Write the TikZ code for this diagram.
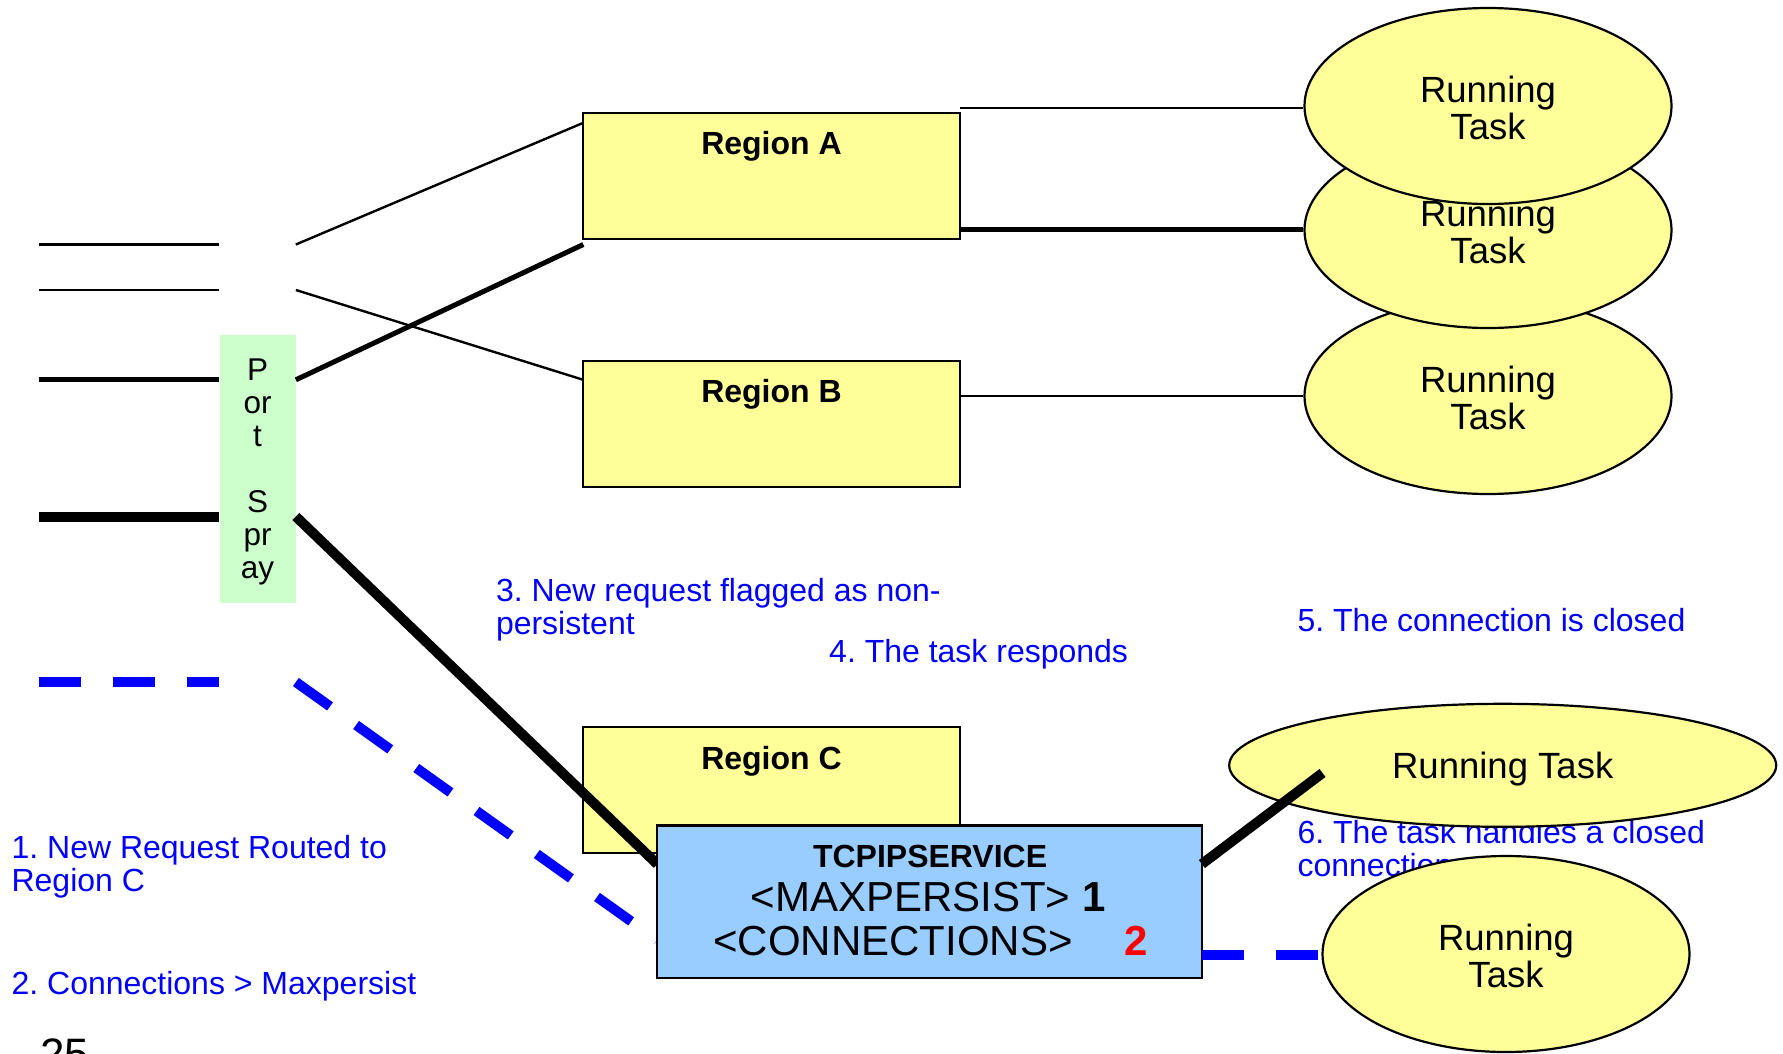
\documentclass[tikz,border=0pt]{standalone}
\usepackage{fontspec}
\setmainfont{Liberation Sans}
\usetikzlibrary{shapes.geometric}

\definecolor{taskyellow}{HTML}{FFFF99}
\definecolor{svcblue}{HTML}{99CCFF}
\definecolor{spraygreen}{HTML}{CCFFCC}
\definecolor{noteblue}{HTML}{0000FF}
\definecolor{alertred}{HTML}{FF0000}

% extra height on the first line of a task label, to set it a little lower
\newcommand\tasklift{\rule{0pt}{30.5pt}}

\tikzset{
  regionbox/.style={draw=black, line width=2pt, fill=taskyellow,
    minimum width=376.4pt, minimum height=126.2pt, inner sep=0pt},
  tasknode/.style={ellipse, draw=black, line width=2.2pt, fill=taskyellow,
    minimum width=367pt, minimum height=196pt, inner sep=0pt, align=center,
    font=\fontsize{36.5}{36.5}\selectfont},
  regionlabel/.style={anchor=base, inner sep=0pt,
    font=\bfseries\fontsize{32}{32}\selectfont},
  note/.style={anchor=base west, inner sep=0pt, text=noteblue,
    font=\fontsize{32}{33}\selectfont},
  svctext/.style={anchor=base west, inner sep=0pt,
    font=\fontsize{42}{42}\selectfont},
  thinlink/.style={line width=2.4pt},
  midlink/.style={line width=5pt},
  thicklink/.style={line width=10pt},
  bluedash/.style={draw=noteblue, line width=10pt, dash pattern=on 42pt off 32pt},
}

\begin{document}
\frenchspacing
\begin{tikzpicture}[x=1pt, y=-1pt]
\useasboundingbox (0,0) rectangle (1783,1053);

% ---------- port spray and incoming connections ----------
\node[fill=spraygreen, minimum width=76.1pt, minimum height=267.3pt, inner sep=0pt,
      align=center, font=\fontsize{31.5}{33}\selectfont]
  (spray) at (257.6,469) {\rule{0pt}{27pt}P\\or\\t\\[33pt]S\\pr\\ay};

\coordinate (l1) at (38.7,244.5);
\coordinate (l2) at (38.7,290);
\coordinate (l3) at (38.7,379.8);
\coordinate (l4) at (38.7,516.5);
\coordinate (l5) at (38.7,682);

\draw[thinlink]  (l1) -- (l1 -| spray.west);
\draw[thinlink]  (l2) -- (l2 -| spray.west);
\draw[midlink]   (l3) -- (l3 -| spray.west);
\draw[thicklink] (l4) -- (l4 -| spray.west);
\draw[bluedash]  (l5) -- (l5 -| spray.west);

% ---------- regions ----------
\node[regionbox] (regA) at (771.5,175.7) {};
\node[regionbox] (regB) at (771.5,424.2) {};
\node[regionbox] (regC) at (771.5,790.3) {};
\node[regionlabel] (labA) at (771.5,154.4) {Region A};
\node[regionlabel] (labB) at (771.5,402.3) {Region B};
\node[regionlabel] (labC) at (771.5,769.5) {Region C};

% entry points on the regions
\coordinate (ra1) at (583.3,122.8);
\coordinate (ra2) at (583.3,244.5);
\coordinate (rb1) at (583.3,379.8);

\draw[thinlink] (spray.east |- l1) -- (ra1);
\draw[thinlink] (spray.east |- l2) -- (rb1);
\draw[midlink]  (spray.east |- l3) -- (ra2);

% ---------- notes ----------
\node[note] (n1a) at (11.4,858.6) {1. New Request Routed to};
\node[note] (n1b) at (11.4,891.6) {Region C};
\node[note] (n2)  at (11.4,994) {2. Connections > Maxpersist};
\node[note] (n3a) at (495.8,601.7) {3. New request flagged as non-};
\node[note] (n3b) at (495.8,634.6) {persistent};
\node[note] (n4)  at (829,662) {4. The task responds};
\node[note] (n5)  at (1297.4,631.2) {5. The connection is closed};
\node[note] (n6a) at (1297.4,843.9) {6. The task handles a closed};
\node[note] (n6b) at (1297.4,876.8) {connection};

\node[anchor=base west, inner sep=0pt, font=\fontsize{44}{44}\selectfont]
  (pageno) at (40,1069) {25};

% ---------- running tasks of regions A and B ----------
\coordinate (ao1) at (959.7,108);
\coordinate (ao2) at (959.7,229.7);
\coordinate (bo1) at (959.7,395.7);

\node[tasknode] (taskB)  at (1488,396) {\tasklift Running\\Task};
\node[tasknode] (taskA2) at (1488,230) {\tasklift Running\\Task};
\node[tasknode] (taskA1) at (1488,106) {\tasklift Running\\Task};

\draw[thinlink] (ao1) -- (ao1 -| taskA1.west);
\draw[midlink]  (ao2) -- (ao2 -| taskA2.west);
\draw[thinlink] (bo1) -- (bo1 -| taskB.west);

% ---------- connections into the TCPIPSERVICE ----------
\coordinate (sv1) at (657.3,864.2);
\coordinate (sv2) at (657.3,940);
\draw[thicklink] (spray.east |- l4) -- (sv1);
\draw[bluedash]  (spray.east |- l5) -- (sv2);

\node[draw=black, line width=2.2pt, fill=svcblue, minimum width=544.6pt,
      minimum height=152.4pt, inner sep=0pt] (svc) at (929.6,901.7) {};
\node[anchor=base, inner sep=0pt, font=\bfseries\fontsize{32}{32}\selectfont]
  (svcname) at (930.1,867.6) {TCPIPSERVICE};
\node[svctext] (maxp) at (750.5,911) {<MAXPERSIST> \textbf{1}};
\node[svctext] (conn) at (713,955.4) {<CONNECTIONS>};
\node[svctext, text=alertred, font=\bfseries\fontsize{42}{42}\selectfont]
  (connval) at (1124.6,955.4) {2};

% ---------- running tasks of region C ----------
\node[tasknode, minimum width=547pt, minimum height=123pt] (taskC1) at (1502.7,765.3) {\rule{0pt}{33.5pt}Running Task};
\node[tasknode] (taskC2) at (1506,954) {\tasklift Running\\Task};

\coordinate (svo1) at (1201.9,864);
\coordinate (tc1)  at (1322.5,773);
\coordinate (svo2) at (1201.9,955);
\draw[thicklink] (svo1) -- (tc1);
\draw[bluedash]  (svo2) -- (svo2 -| taskC2.west);
\end{tikzpicture}
\end{document}
